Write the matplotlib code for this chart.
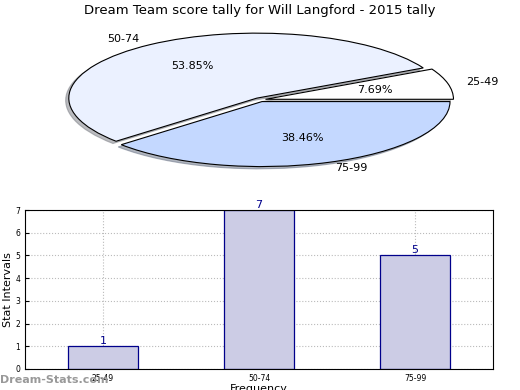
import matplotlib
matplotlib.use("Agg")
import matplotlib.pyplot as plt

# data
intervalli = ["25-49", "50-74", "75-99"]
stevila = [1, 7, 5]
barve_pite = ["#ffffff", "#ebf1ff", "#c4d8ff"]

fig = plt.figure(figsize=(5.2, 3.9), dpi=100)

##################################################################
# PITA
ax1 = fig.add_axes([25.0 / 520, 209.0 / 390, 470.0 / 520, 162.5 / 390])
ax1.pie(stevila, labels=intervalli, colors=barve_pite, autopct="%1.2f%%",
        explode=[0.03, 0.03, 0.03], startangle=0,
        shadow={"ox": -0.012, "oy": -0.025, "shade": 0.5},
        wedgeprops={"edgecolor": "black", "linewidth": 0.8},
        textprops={"fontsize": 8})
ax1.set_aspect("auto")
ax1.set_xlim(-1.25, 1.25)
ax1.set_ylim(-1.25, 1.25)
fig.text(0.5, 0.973, "Dream Team score tally for Will Langford - 2015 tally",
         ha="center", va="center", fontsize=9.5)

##################################################################
# STOLPCI
ax2 = fig.add_axes([25.0 / 520, 21.0 / 390, 468.0 / 520, 159.0 / 390])
x = range(len(intervalli))
ax2.bar(x, stevila, width=0.45, color="#ccccE5", edgecolor="#00008b", linewidth=0.9)
for i, v in zip(x, stevila):
    ax2.text(i, v, str(v), ha="center", va="bottom", color="#00008b", fontsize=8)
ax2.set_xlim(-0.5, 2.5)
ax2.set_ylim(0, 7)
ax2.set_xticks(list(x))
ax2.set_xticklabels(intervalli, fontsize=5.5)
ax2.set_yticks(range(8))
ax2.tick_params(axis="y", labelsize=5.5, direction="in", length=3)
ax2.tick_params(axis="x", direction="in", length=3)
ax2.grid(True, linestyle=":", color="#bbbbbb", linewidth=0.8)
ax2.set_axisbelow(True)
ax2.set_ylabel("Stat Intervals", fontsize=8)
ax2.yaxis.set_label_coords(-0.026, 0.5)
ax2.set_xlabel("Frequency", fontsize=8, labelpad=1)

fig.text(0.0, 0.025, "Dream-Stats.com", fontsize=8, fontweight="bold",
         color="#999999", ha="left", va="center")

fig.savefig("out.png", dpi=100)
